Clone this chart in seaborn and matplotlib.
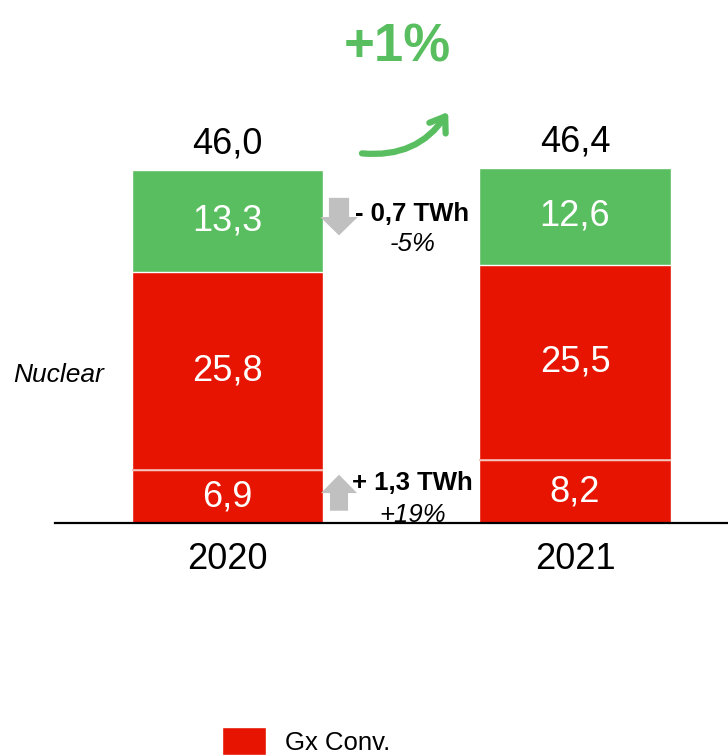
import matplotlib
matplotlib.use("Agg")
import matplotlib.pyplot as plt
from matplotlib.patches import FancyArrow, Patch
import pandas as pd
import seaborn as sns

years = ["2020", "2021"]
gx_conv = [6.9, 8.2]
nuclear = [25.8, 25.5]
renew = [13.3, 12.6]
totals = [46.0, 46.4]

red = "#E61400"
green = "#59BE5F"
grey = "#C0C0C0"

sns.set_style("white")
plt.rcParams["font.family"] = ["Liberation Sans", "DejaVu Sans"]
plt.rcParams["text.color"] = "black"
plt.rcParams["xtick.color"] = "black"

df = pd.DataFrame({"year": years, "gx": gx_conv, "nuc": nuclear, "ren": renew})
df["mid"] = df["gx"] + df["nuc"]
df["top"] = df["mid"] + df["ren"]

fig = plt.figure(figsize=(7.28, 7.56), dpi=100)
ax = fig.add_axes([55 / 728, 233 / 756, 1 - 55 / 728, 1 - 233 / 756])

bw = 0.55
sns.barplot(data=df, x="year", y="top", color=green, width=bw, ax=ax, saturation=1)
sns.barplot(data=df, x="year", y="mid", color=red, width=bw, ax=ax, saturation=1)
sns.barplot(data=df, x="year", y="gx", color=red, width=bw, ax=ax, saturation=1)
# thin light separator between the two red segments
ax.hlines(gx_conv, [i - bw / 2 for i in range(len(years))], [i + bw / 2 for i in range(len(years))],
          color="#f4b8b0", lw=1.2)

ax.set_xlim(-0.496, 1.44)
ax.set_ylim(0, 68.2)
ax.set_xlabel("")
ax.set_ylabel("")
ax.set_yticks([])
sns.despine(ax=ax, left=True, top=True, right=True)
ax.spines["bottom"].set_color("black")
ax.spines["bottom"].set_linewidth(1.6)
ax.tick_params(axis="x", length=0, pad=14, labelsize=26)

fmt = lambda v: f"{v:.1f}".replace(".", ",")
for i in range(len(years)):
    ax.text(i, gx_conv[i] / 2, fmt(gx_conv[i]), ha="center", va="center", color="white", fontsize=26)
    ax.text(i, gx_conv[i] + nuclear[i] / 2, fmt(nuclear[i]), ha="center", va="center", color="white", fontsize=26)
    ax.text(i, df["mid"][i] + renew[i] / 2, fmt(renew[i]), ha="center", va="center", color="white", fontsize=26)
    ax.annotate(fmt(totals[i]), (i, df["top"][i]), xytext=(0, 6), textcoords="offset points",
                ha="center", va="bottom", fontsize=26)

# side annotations
ax.add_patch(FancyArrow(0.321, 42.4, 0, -4.9, width=0.058, head_width=0.108, head_length=2.4,
                        length_includes_head=True, color=grey, lw=0))
ax.add_patch(FancyArrow(0.321, 1.6, 0, 4.7, width=0.052, head_width=0.104, head_length=2.4,
                        length_includes_head=True, color=grey, lw=0))
ax.text(0.531, 40.3, "- 0,7 TWh", ha="center", va="center", fontsize=18.5, fontweight="bold")
ax.text(0.533, 36.4, "-5%", ha="center", va="center", fontsize=18.5, style="italic")
ax.text(0.531, 5.2, "+ 1,3 TWh", ha="center", va="center", fontsize=18.5, fontweight="bold")
ax.text(0.533, 1.1, "+19%", ha="center", va="center", fontsize=18.5, style="italic", clip_on=True)

ax.text(0.49, 62.0, "+1%", ha="center", va="center", fontsize=38, fontweight="bold", color=green)
ax.annotate("", xy=(0.635, 53.6), xytext=(0.387, 48.2),
            arrowprops=dict(arrowstyle="->,head_length=1.0,head_width=0.7", color=green, lw=4.5,
                            connectionstyle="arc3,rad=0.3", shrinkA=0, shrinkB=0, capstyle="round"))

ax.text(-0.485, 19.3, "Nuclear", ha="center", va="center", fontsize=19, style="italic")

fig.legend(handles=[Patch(facecolor=red, label="Gx Conv.")], loc="center left",
           bbox_to_anchor=(222 / 728, 15 / 756), frameon=False, fontsize=18.5,
           handlelength=1.7, handleheight=1.3, handletextpad=0.75, borderaxespad=0, borderpad=0)

fig.savefig("out.png", dpi=100)
